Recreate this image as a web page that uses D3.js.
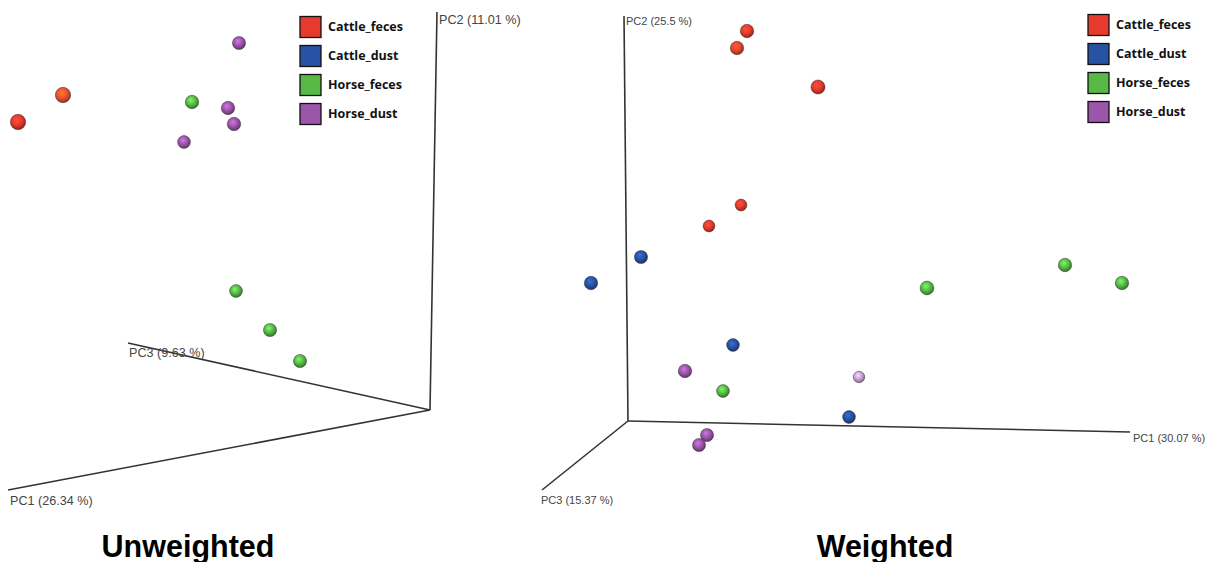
<!DOCTYPE html>
<meta charset="utf-8">
<style>
body { margin: 0; background: #fff; }
.axis-line { stroke: #333; stroke-width: 1.6; fill: none; }
.axis-label { font-family: "Liberation Sans", Arial, sans-serif; fill: #444; }
.legend text { font-family: "Open Sans", "Liberation Sans", sans-serif; font-weight: bold; font-size: 12.5px; fill: #111; }
.title { font-family: "Liberation Sans", Arial, sans-serif; font-weight: bold; font-size: 30.5px; fill: #000; text-anchor: middle; }
</style>
<svg width="1208" height="562"></svg>
<script src="https://d3js.org/d3.v7.min.js"></script>
<script>

var groups = ["Cattle_feces", "Cattle_dust", "Horse_feces", "Horse_dust"];
var groupColors = ["#e63a2c", "#2852a3", "#58b947", "#9b55a9"];

// projected coordinates (panel units), depth 0..1 (nearer = bigger)
var unweightedPoints = [
  {group: "Cattle_feces", x: 18,  y: 122, depth: 0.9},
  {group: "Cattle_feces", x: 63,  y: 95,  depth: 0.9, tint: "#e8552c"},
  {group: "Horse_feces",  x: 192, y: 102, depth: 0.6},
  {group: "Horse_feces",  x: 236, y: 291, depth: 0.5},
  {group: "Horse_feces",  x: 270, y: 330, depth: 0.55},
  {group: "Horse_feces",  x: 300, y: 361, depth: 0.55},
  {group: "Horse_dust",   x: 239, y: 43,  depth: 0.55},
  {group: "Horse_dust",   x: 228, y: 108, depth: 0.6},
  {group: "Horse_dust",   x: 234, y: 124, depth: 0.6},
  {group: "Horse_dust",   x: 184, y: 142, depth: 0.5}
];
var unweightedAxes = [
  {name: "PC1 (26.34 %)", x: 8,   y: 490, lx: 10,  ly: 505},
  {name: "PC2 (11.01 %)", x: 437, y: 12,  lx: 439, ly: 24},
  {name: "PC3 (9.63 %)",  x: 128, y: 343, lx: 129, ly: 357}
];
var unweightedOrigin = {x: 430, y: 410};

var weightedPoints = [
  {group: "Cattle_feces", x: 143, y: 31,  depth: 0.6},
  {group: "Cattle_feces", x: 133, y: 48,  depth: 0.6, tint: "#e8452c"},
  {group: "Cattle_feces", x: 214, y: 87,  depth: 0.7},
  {group: "Cattle_feces", x: 137, y: 205, depth: 0.35},
  {group: "Cattle_feces", x: 105, y: 226, depth: 0.35},
  {group: "Cattle_dust",  x: -13, y: 283, depth: 0.6},
  {group: "Cattle_dust",  x: 37,  y: 257, depth: 0.55},
  {group: "Cattle_dust",  x: 129, y: 345, depth: 0.5},
  {group: "Cattle_dust",  x: 245, y: 417, depth: 0.5},
  {group: "Horse_feces",  x: 323, y: 288, depth: 0.65},
  {group: "Horse_feces",  x: 461, y: 265, depth: 0.6},
  {group: "Horse_feces",  x: 518, y: 283, depth: 0.6},
  {group: "Horse_feces",  x: 119, y: 391, depth: 0.5},
  {group: "Horse_dust",   x: 81,  y: 371, depth: 0.6},
  {group: "Horse_dust",   x: 103, y: 435, depth: 0.55},
  {group: "Horse_dust",   x: 95,  y: 445, depth: 0.55},
  {group: "Horse_dust",   x: 255, y: 377, depth: 0.3, tint: "#c9a0d4"}
];
var weightedAxes = [
  {name: "PC1 (30.07 %)", x: 526, y: 432, lx: 529, ly: 442},
  {name: "PC2 (25.5 %)",  x: 20,  y: 16,  lx: 22,  ly: 25},
  {name: "PC3 (15.37 %)", x: -62, y: 490, lx: -63, ly: 504}
];
var weightedOrigin = {x: 24, y: 421};

var svg = d3.select("svg");
var color = d3.scaleOrdinal().domain(groups).range(groupColors);
var radius = d3.scaleLinear().domain([0, 1]).range([4.8, 8]);
var y = d3.scaleLinear().domain([0, 562]).range([0, 562]);

var defs = svg.append("defs");
var gradId = 0;
function sphereFill(c) {
  var id = "sph" + (gradId++);
  var g = defs.append("radialGradient").attr("id", id)
      .attr("cx", "0.45").attr("cy", "0.4").attr("r", "0.6")
      .attr("fx", "0.4").attr("fy", "0.35");
  g.append("stop").attr("offset", "0%").attr("stop-color", d3.color(c).brighter(0.9));
  g.append("stop").attr("offset", "55%").attr("stop-color", c);
  g.append("stop").attr("offset", "100%").attr("stop-color", d3.color(c).darker(1.3));
  return "url(#" + id + ")";
}

function drawPanel(left, points, axes, origin, title, legendX, legendY, labelSize) {
  var x = d3.scaleLinear().domain([0, 604]).range([left, left + 604]);
  var g = svg.append("g");

  g.selectAll(".axis-line")
    .data(axes)
    .enter().append("line")
      .attr("class", "axis-line")
      .attr("x1", x(origin.x)).attr("y1", y(origin.y))
      .attr("x2", function(d) { return x(d.x); })
      .attr("y2", function(d) { return y(d.y); });

  g.selectAll(".axis-label")
    .data(axes)
    .enter().append("text")
      .attr("class", "axis-label")
      .attr("font-size", labelSize)
      .attr("x", function(d) { return x(d.lx); })
      .attr("y", function(d) { return y(d.ly); })
      .text(function(d) { return d.name; });

  g.selectAll("circle.pt")
    .data(points.slice().sort(function(a, b) { return a.depth - b.depth; }))
    .enter().append("circle")
      .attr("class", "pt")
      .attr("cx", function(d) { return x(d.x); })
      .attr("cy", function(d) { return y(d.y); })
      .attr("r", function(d) { return radius(d.depth); })
      .attr("fill", function(d) { return sphereFill(d.tint || color(d.group)); })
      .attr("stroke", "rgba(40,40,40,0.55)")
      .attr("stroke-width", 0.8);

  var legend = g.append("g").attr("class", "legend")
    .selectAll("g")
    .data(groups)
    .enter().append("g")
      .attr("transform", function(d, i) { return "translate(" + legendX + "," + (legendY + i * 29) + ")"; });

  legend.append("rect")
      .attr("x", 0).attr("y", -10.5)
      .attr("width", 21).attr("height", 21)
      .attr("fill", color)
      .attr("stroke", "#111").attr("stroke-width", 1.3);

  legend.append("text")
      .attr("x", 28).attr("dy", "0.35em")
      .text(function(d) { return d; });

  svg.append("text").attr("class", "title")
      .attr("x", title.x).attr("y", 557)
      .text(title.text);
}

drawPanel(0, unweightedPoints, unweightedAxes, unweightedOrigin, {text: "Unweighted", x: 188}, 300, 27, "12.6px");
drawPanel(604, weightedPoints, weightedAxes, weightedOrigin, {text: "Weighted", x: 885}, 1088, 25, "11px");

</script>
